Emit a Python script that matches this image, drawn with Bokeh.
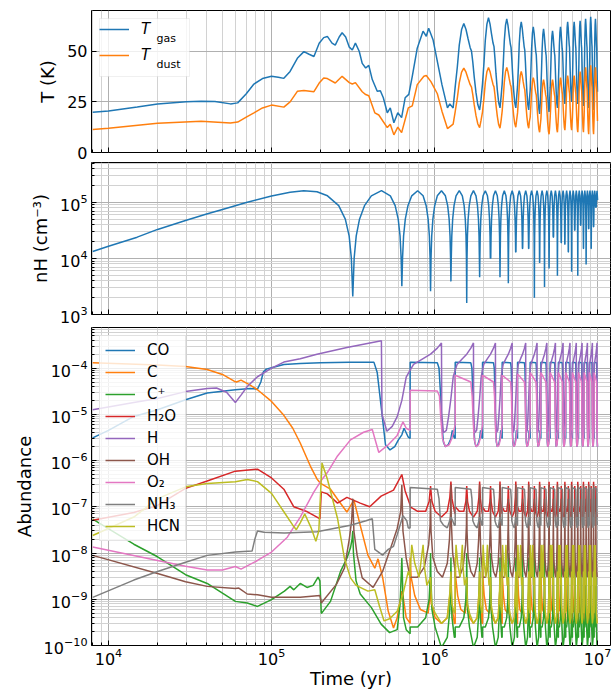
from bokeh.plotting import figure
from bokeh.layouts import column
from bokeh.models import Range1d, FixedTicker, Legend, LegendItem, Label, BoxAnnotation
from bokeh.embed import file_html
from bokeh.resources import INLINE

FONT = "DejaVu Sans"
T_END = 1.0e7

# ---------------- values ----------------
# times of the density minima (yr)
dip_times = [3.15e5, 6.30e5, 9.45e5, 1.26e6, 1.575e6, 1.89e6, 2.205e6, 2.52e6, 2.835e6,
             3.15e6, 3.465e6, 3.78e6, 4.095e6, 4.41e6, 4.725e6, 5.04e6, 5.355e6, 5.67e6,
             5.985e6, 6.3e6, 6.615e6, 6.93e6, 7.245e6, 7.56e6, 7.875e6, 8.19e6, 8.505e6,
             8.82e6, 9.135e6, 9.45e6, 9.765e6]
P = dip_times[1] - dip_times[0]
odd_dips_abund = [3, 5, 7, 9, 11, 13, 15, 17, 19, 21, 23, 25, 27, 29, 31]
odd_dips_temp = [5, 7, 9, 11, 13, 15, 17, 19, 21, 23, 25, 27, 29, 31]

# ---- n_H ----
nh_early_t = [8e3, 1e4, 1.5e4, 2e4, 3e4, 4e4, 5e4, 7e4, 1e5, 1.3e5, 1.575e5, 1.9e5]
nh_early_v = [1.33e4, 1.65e4, 2.4e4, 3.3e4, 4.8e4, 6.2e4, 7.5e4, 1.0e5, 1.3e5, 1.52e5, 1.62e5, 1.55e5]
nh_peak = 1.62e5
nh_dip = [2.1e3, 3.2e3, 2.6e3, 3.9e3, 1.6e3, 4.6e3, 1.0e4, 4.6e3, 3.6e3, 1.3e4, 1.5e4,
          1.5e4, 2.0e3, 8.3e3, 3.1e3, 6.6e3, 2.4e4, 4.9e3, 1.9e4, 1.8e4, 1.3e4, 5.8e3,
          3.2e4, 4.9e3, 3.9e4, 1.5e4, 7.8e3, 3.4e4, 1.5e4, 3.7e4, 8.2e4]
nh_offs = [-0.3, -0.18, -0.1, -0.05, -0.02, 0.0, 0.02, 0.05, 0.1, 0.18, 0.3, 0.5]
nh_shape = [0.81, 0.54, 0.31, 0.156, 0.063, 0.0, 0.063, 0.156, 0.31, 0.54, 0.81, 1.0]
nh_end = 1.1e5

# ---- temperatures ----
tg_t = [8e3, 1e4, 1.5e4, 2e4, 3e4, 3.7e4, 4.5e4, 5.6e4, 6.2e4, 7e4, 7.8e4, 8.8e4, 1e5,
        1.1e5, 1.19e5, 1.3e5, 1.44e5, 1.58e5, 1.7e5, 1.82e5, 1.96e5, 2.09e5, 2.2e5,
        2.35e5, 2.46e5, 2.6e5, 2.71e5, 2.85e5, 3.0e5, 3.13e5, 3.27e5, 3.45e5, 3.6e5,
        3.78e5, 3.95e5, 4.15e5, 4.45e5, 4.65e5, 4.85e5, 5.13e5, 5.35e5, 5.63e5, 5.95e5,
        6.28e5, 6.6e5, 6.95e5, 7.3e5, 7.83e5, 8.5e5, 8.9e5, 9.2e5, 9.8e5, 1.04e6,
        1.11e6, 1.2e6, 1.24e6, 1.3e6]
tg_v = [19.9, 20.5, 22.5, 24.0, 25.0, 25.3, 25.2, 24.0, 24.5, 29.0, 33.8, 36.5, 37.6,
        37.2, 36.6, 40.0, 46.5, 49.8, 48.5, 47.4, 53.9, 56.7, 57.3, 54.0, 53.0, 57.0,
        59.1, 57.0, 52.0, 50.6, 54.0, 50.0, 44.0, 41.7, 43.0, 36.0, 30.2, 30.5, 27.0,
        19.6, 22.0, 14.7, 19.6, 17.2, 27.0, 28.7, 37.6, 51.5, 59.9, 57.4, 61.3, 55.5,
        45.0, 33.5, 22.0, 24.0, 22.0]
td_t = [8e3, 1e4, 2e4, 3.7e4, 5.6e4, 6.2e4, 7e4, 7.8e4, 8.8e4, 1e5, 1.19e5, 1.3e5,
        1.44e5, 1.58e5, 1.82e5, 1.96e5, 2.09e5, 2.2e5, 2.46e5, 2.71e5, 3.0e5, 3.13e5,
        3.27e5, 3.6e5, 3.78e5, 3.95e5, 4.3e5, 4.55e5, 5.13e5, 5.35e5, 5.63e5, 5.95e5,
        6.28e5, 6.9e5, 7.3e5, 7.83e5, 8.6e5, 8.9e5, 9.5e5, 1.04e6, 1.11e6, 1.2e6, 1.3e6]
td_v = [11.4, 12.0, 14.4, 15.4, 14.6, 15.0, 17.5, 19.6, 22.0, 23.4, 22.4, 25.0, 30.2,
        30.6, 30.0, 34.3, 36.8, 36.5, 34.3, 37.6, 34.5, 33.8, 34.5, 30.0, 28.6, 28.0,
        19.6, 18.5, 12.3, 14.0, 8.7, 12.5, 9.8, 22.0, 23.0, 33.5, 37.6, 38.0, 35.0,
        29.0, 20.4, 11.8, 14.0]
tg_peak = [63.7, 66.5, 66.0, 64.5, 62.0, 61.0, 60.0, 62.0, 64.5, 64.5, 65.0, 66.0, 67.0, 66.0]
tg_trough = [21.0, 22.0, 22.0, 21.0, 19.0, 20.0, 22.0, 24.0, 25.0, 24.0, 23.0, 22.0, 21.0, 21.0]
td_peak = [41.7, 42.0, 42.0, 40.0, 37.0, 36.0, 36.0, 37.0, 38.0, 38.0, 40.0, 42.0, 43.0, 42.0]
td_trough = [12.3, 12.0, 12.5, 12.0, 10.0, 9.0, 10.0, 11.0, 11.0, 10.0, 10.0, 9.0, 9.0, 9.0]
temp_offs = [-0.75, -0.62, -0.5, -0.35, -0.2, -0.05, 0.1, 0.25, 0.35, 0.45, 0.56, 0.7, 0.85, 1.0, 1.12]
temp_frac = [0.27, 0.5, 0.75, 0.93, 1.0, 0.93, 0.82, 0.72, 0.68, 0.55, 0.38, 0.2, 0.06, 0.0, 0.12]

# ---- abundances: early part ----
co_t = [8e3, 1e4, 1.43e4, 2e4, 2.97e4, 4.03e4, 6e4, 7.4e4, 8.2e4, 8.6e4, 8.9e4, 9.3e4, 1e5,
        1.19e5, 1.5e5, 2e5, 3e5, 4.25e5, 4.45e5, 4.7e5, 5.0e5, 5.33e5, 5.7e5, 6.0e5, 6.3e5,
        6.5e5, 6.9e5, 7.08e5]
co_v = [3.1e-6, 4.5e-6, 9e-6, 1.26e-5, 2.07e-5, 2.9e-5, 3.4e-5, 3.6e-5, 3.5e-5, 5e-5, 8.2e-5,
        9.5e-5, 1.02e-4, 1.2e-4, 1.25e-4, 1.3e-4, 1.33e-4, 1.33e-4, 8e-5, 1.5e-5, 2.2e-6,
        1.7e-6, 2.0e-6, 2.8e-6, 3.6e-6, 5e-6, 3.2e-6, 3e-6]
c_t = [8e3, 2e4, 2.97e4, 4.03e4, 5e4, 5.9e4, 6.1e4, 6.5e4, 7.4e4, 8.2e4, 1e5, 1.19e5, 1.35e5,
       1.5e5, 1.73e5, 1.9e5, 2.0e5, 2.3e5, 2.6e5, 2.9e5, 3.2e5, 3.5e5, 3.9e5, 4.3e5, 4.5e5,
       4.8e5, 5.2e5, 5.6e5, 5.9e5, 6.3e5, 6.4e5, 6.7e5, 7.08e5]
c_v = [1.3e-4, 1.17e-4, 1.08e-4, 9.3e-5, 7.3e-5, 5.2e-5, 5.0e-5, 5.5e-5, 4.3e-5, 3.4e-5, 1.9e-5,
       9.5e-6, 5e-6, 2.4e-6, 7.6e-7, 4e-7, 3.2e-7, 2.4e-7, 1.3e-7, 7.7e-8, 1.4e-7, 4e-8, 9e-9,
       4.7e-9, 7.5e-9, 3e-9, 5.5e-10, 2.4e-10, 4e-10, 1.5e-9, 1.2e-9, 4e-10, 3e-10]
cp_t = [8e3, 1.43e4, 2e4, 2.97e4, 4.03e4, 5e4, 6e4, 7.1e4, 8.2e4, 1e5, 1.2e5, 1.3e5, 1.37e5,
        1.5e5, 1.65e5, 1.8e5, 1.93e5, 1.98e5, 2.02e5, 2.3e5, 2.65e5, 2.9e5, 3.05e5, 3.12e5,
        3.15e5, 3.18e5, 3.3e5, 3.5e5, 4.1e5, 4.7e5, 5.3e5, 5.9e5, 6.15e5, 6.3e5, 6.45e5,
        6.7e5, 7.08e5]
cp_v = [5.4e-8, 1.55e-8, 8.3e-9, 3.4e-9, 2.2e-9, 1.35e-9, 9e-10, 8.3e-10, 7e-10, 9.8e-10,
        1.5e-9, 1.9e-9, 1.6e-9, 2.2e-9, 1.8e-9, 2.0e-9, 3.0e-9, 2.5e-9, 4.9e-10, 9e-10, 4e-9,
        7.7e-9, 1.3e-8, 2e-8, 3e-8, 1e-8, 2.5e-9, 1.3e-9, 6.6e-10, 2.9e-10, 1.9e-10, 2.2e-10,
        8e-10, 7.8e-9, 4e-10, 2.2e-10, 1.8e-10]
w_t = [8e3, 1.43e4, 2e4, 2.97e4, 4.03e4, 6e4, 8.2e4, 1e5, 1.19e5, 1.37e5, 1.66e5, 1.9e5,
       1.98e5, 2.02e5, 2.2e5, 2.54e5, 2.9e5, 3.5e5, 4.0e5, 4.7e5, 5.6e5, 6.3e5, 6.6e5, 7.08e5]
w_v = [5.1e-8, 7.5e-8, 1.07e-7, 2.5e-7, 3.6e-7, 5.9e-7, 6.5e-7, 4.2e-7, 2.4e-7, 1.0e-7, 7.8e-8,
       6e-8, 5.5e-8, 2.1e-7, 1.9e-7, 1.2e-7, 1.6e-7, 1.2e-7, 1e-7, 1.7e-7, 2.3e-7, 5e-7,
       2.2e-7, 1.1e-7]
h_t = [8e3, 1.43e4, 2e4, 2.97e4, 4.03e4, 4.6e4, 5.3e4, 6.0e4, 6.5e4, 7.1e4, 8.2e4, 1e5,
       1.19e5, 1.5e5, 1.9e5, 2.9e5, 4.72e5, 4.76e5, 5.1e5, 5.5e5, 5.9e5, 6.3e5, 6.7e5, 7.08e5]
h_v = [1.26e-5, 1.8e-5, 2.2e-5, 3.1e-5, 3.6e-5, 3.7e-5, 3.0e-5, 1.8e-5, 2.6e-5, 4e-5, 6.5e-5,
       1.0e-4, 1.35e-4, 1.6e-4, 2.0e-4, 2.8e-4, 3.9e-4, 1e-5, 4.3e-6, 5.5e-6, 8.9e-6, 2.0e-5,
       6.4e-5, 9e-5]
oh_t = [8e3, 2e4, 2.97e4, 4.03e4, 6e4, 6.3e4, 7.1e4, 8.2e4, 1e5, 1.5e5, 1.98e5, 2.02e5,
        2.5e5, 2.8e5, 3.0e5, 3.1e5, 3.15e5, 3.2e5, 3.35e5, 3.6e5, 4.2e5, 4.8e5, 5.3e5,
        5.9e5, 6.2e5, 6.3e5, 6.4e5, 6.7e5, 7.08e5]
oh_v = [8.9e-9, 3.6e-9, 2.4e-9, 1.9e-9, 1.7e-9, 1.75e-9, 1.3e-9, 1.25e-9, 1.1e-9, 1.1e-9,
        1.2e-9, 8.3e-10, 2.1e-9, 4.7e-9, 2e-8, 5e-8, 1.5e-7, 3e-8, 9e-9, 2.9e-9, 1.8e-9,
        4e-9, 1.1e-8, 3.4e-8, 8e-8, 3e-7, 3e-8, 7.7e-9, 3e-9]
o2_t = [8e3, 2e4, 2.97e4, 4.03e4, 5e4, 6e4, 6.5e4, 8.2e4, 1e5, 1.25e5, 1.5e5, 1.82e5, 2.05e5,
        2.2e5, 2.54e5, 3.05e5, 3.67e5, 4.15e5, 4.3e5, 4.55e5, 5.2e5, 5.9e5, 6.4e5, 6.7e5, 7.08e5]
o2_v = [1.35e-8, 6.9e-9, 5.2e-9, 4.3e-9, 4.3e-9, 5.1e-9, 4.5e-9, 6.9e-9, 1.05e-8, 2.2e-8, 6e-8,
        2.1e-7, 4e-7, 5.5e-7, 1.26e-6, 2.8e-6, 4.1e-6, 4.7e-6, 3e-6, 1.5e-6, 2.2e-6, 3.5e-6,
        6.9e-6, 5e-6, 4.5e-6]
nh3_t = [8e3, 1.43e4, 2e4, 2.97e4, 4.03e4, 6e4, 7.6e4, 7.9e4, 8.2e4, 9e4, 1.2e5, 1.9e5,
         3.05e5, 3.8e5, 4.15e5, 4.3e5, 4.8e5, 5.2e5, 5.6e5, 5.9e5, 6.4e5, 6.75e5, 6.9e5, 7.08e5]
nh3_v = [1.1e-9, 2.6e-9, 4e-9, 6.3e-9, 8.9e-9, 1.05e-8, 1.1e-8, 2e-8, 3.0e-8, 2.8e-8, 2.7e-8,
         2.9e-8, 4e-8, 5e-8, 5.5e-8, 1.2e-8, 9e-9, 1.2e-8, 1.4e-8, 2.5e-8, 6.4e-8, 5e-8,
         3.5e-8, 3.5e-8]
hcn_t = [8e3, 1.43e4, 2e4, 2.97e4, 4.03e4, 6e4, 7.1e4, 8.2e4, 1e5, 1.19e5, 1.35e5, 1.42e5,
         1.5e5, 1.6e5, 1.75e5, 1.87e5, 1.95e5, 2.04e5, 2.2e5, 2.54e5, 2.8e5, 3.05e5, 3.3e5,
         3.9e5, 4.3e5, 4.6e5, 4.9e5, 5.3e5, 5.9e5, 6.4e5, 6.9e5, 7.08e5]
hcn_v = [2.4e-8, 6e-8, 1.5e-7, 2.7e-7, 3.2e-7, 3.5e-7, 3.9e-7, 3.5e-7, 1.95e-7, 7.8e-8, 4e-8,
         3.2e-8, 4.5e-8, 7e-8, 3.5e-8, 1.8e-8, 3e-8, 8.9e-7, 4e-7, 5.6e-8, 7.7e-9, 2.9e-9,
         2e-9, 1.5e-9, 1.6e-9, 7e-10, 3.4e-10, 3.8e-10, 5.5e-10, 1.3e-9, 4e-9, 3e-9]

# ---- abundances: one repeating two-dip cycle (offsets in dip periods from an odd dip) ----
co_offs = [-0.75, 0.3, 0.38, 0.45, 0.52, 0.6, 0.7, 0.85, 1.0, 1.08, 1.18, 1.249]
co_cyc = [1.33e-4, 1.3e-4, 1.0e-4, 3e-5, 6e-6, 2.5e-6, 2.0e-6, 2.2e-6, 3e-6, 4.5e-6, 3.2e-6, 3e-6]
h_offs = [-0.75, -0.64, -0.3, 0.0, 0.3, 0.5, 0.515, 0.6, 0.75, 0.87, 1.0, 1.13, 1.249]
h_cyc = [9e-5, 1.2e-4, 1.6e-4, 2.0e-4, 2.7e-4, 3.5e-4, 1e-5, 4e-6, 4.5e-6, 8.9e-6, 2.2e-5, 6.4e-5, 9e-5]
o2_offs = [-0.75, 0.3, 0.4, 0.47, 0.55, 0.7, 0.9, 1.05, 1.2, 1.249]
o2_top = [3.3e-5, 7e-5, 7e-5, 7e-5, 7.5e-5, 8e-5, 8e-5, 8e-5, 8e-5, 8e-5, 8e-5, 8e-5, 8e-5, 8e-5, 8e-5]
o2_end = [3.2e-5, 5e-5, 5e-5, 5e-5, 5e-5, 5e-5, 5e-5, 5e-5, 5e-5, 5e-5, 5e-5, 5e-5, 5e-5, 5e-5, 5e-5]
o2_tail = [2.5e-5, 8e-6, 3e-6, 2e-6, 2.2e-6, 3e-6, 5e-6, 6e-6]
nh3_offs = [-0.75, 0.3, 0.38, 0.45, 0.6, 0.8, 1.0, 1.1, 1.2, 1.249]
nh3_cyc = [2.6e-7, 2.4e-7, 1.5e-7, 5e-8, 4e-8, 3.5e-8, 6e-8, 5e-8, 4e-8, 4e-8]
w_offs = [-0.75, -0.5, -0.2, -0.06, 0.0, 0.06, 0.2, 0.5, 0.8, 0.94, 1.0, 1.06, 1.2, 1.249]
w_cyc = [1.0e-7, 8e-8, 8e-8, 1.3e-7, 2.8e-7, 1.3e-7, 8e-8, 6e-8, 8e-8, 1.6e-7, 3.5e-7, 1.5e-7, 8e-8, 7e-8]
oh_offs = [-0.75, -0.5, -0.25, -0.08, -0.02, 0.0, 0.02, 0.1, 0.3, 0.55, 0.8, 0.92, 0.98, 1.0, 1.02, 1.1, 1.249]
oh_cyc = [3e-9, 3e-9, 5e-9, 1.5e-8, 4e-8, 1.5e-7, 3e-8, 8e-9, 4e-9, 3e-9, 6e-9, 2e-8, 8e-8, 3e-7, 5e-8, 1e-8, 4e-9]
hcn_offs = [-0.75, -0.7, -0.6, -0.45, -0.3, -0.25, -0.15, 0.0, 0.05, 0.2, 0.5, 0.8, 0.95, 1.0, 1.05, 1.2, 1.249]
hcn_cyc = [4e-9, 1.5e-8, 6e-9, 3e-9, 1.5e-8, 5e-9, 2e-9, 3e-9, 8e-10, 5e-10, 3e-10, 4e-10, 1.5e-9, 4e-9, 8e-10, 5e-10, 6e-10]
c_offs = [-0.75, -0.72, -0.6, -0.4, -0.1, -0.02, 0.0, 0.03, 0.2, 0.5, 0.8, 0.97, 1.0, 1.03, 1.2, 1.249]
c_cyc = [8e-9, 3e-9, 1.2e-9, 6e-10, 5e-10, 1.2e-9, 3e-9, 8e-10, 4e-10, 3e-10, 4e-10, 1.5e-9, 4e-9, 8e-10, 3e-10, 3e-10]
cp_offs = [-0.75, -0.5, -0.2, -0.06, -0.015, 0.0, 0.015, 0.06, 0.2, 0.5, 0.8, 0.94, 0.985, 1.0, 1.015, 1.06, 1.2, 1.249]
cp_cyc = [2.5e-10, 2.5e-10, 4e-10, 1e-9, 3e-9, 1e-8, 3e-9, 6e-10, 2.5e-10, 9e-11, 1.5e-10, 6e-10, 2.5e-9, 8e-9, 2e-9, 4e-10, 1.5e-10, 1.5e-10]


# ---------------- assembly ----------------
def assemble(t0, v0, offs, rows, ks):
    t, v = list(t0), list(v0)
    for k, vals in zip(ks, rows):
        tk = dip_times[k - 1]
        for o, val in zip(offs, vals):
            tt = tk + o * P
            if tt <= T_END:
                t.append(tt)
                v.append(val)
    return t, v


nb = len(odd_dips_abund)
series = {}
series["CO"] = assemble(co_t, co_v, co_offs, [co_cyc] * nb, odd_dips_abund)
series["C"] = assemble(c_t, c_v, c_offs, [c_cyc] * nb, odd_dips_abund)
series["C+"] = assemble(cp_t, cp_v, cp_offs, [cp_cyc] * nb, odd_dips_abund)
series["H2O"] = assemble(w_t, w_v, w_offs, [w_cyc] * nb, odd_dips_abund)
series["H"] = assemble(h_t, h_v, h_offs, [h_cyc] * nb, odd_dips_abund)
series["OH"] = assemble(oh_t, oh_v, oh_offs, [oh_cyc] * nb, odd_dips_abund)
series["O2"] = assemble(o2_t, o2_v, o2_offs,
                        [[a, b] + o2_tail for a, b in zip(o2_top, o2_end)], odd_dips_abund)
series["NH3"] = assemble(nh3_t, nh3_v, nh3_offs, [nh3_cyc] * nb, odd_dips_abund)
series["HCN"] = assemble(hcn_t, hcn_v, hcn_offs, [hcn_cyc] * nb, odd_dips_abund)

tgas = assemble(tg_t, tg_v, temp_offs,
                [[lo + f * (hi - lo) for f in temp_frac] for hi, lo in zip(tg_peak, tg_trough)],
                odd_dips_temp)
tdust = assemble(td_t, td_v, temp_offs,
                 [[lo + f * (hi - lo) for f in temp_frac] for hi, lo in zip(td_peak, td_trough)],
                 odd_dips_temp)

nh_t, nh_v = list(nh_early_t), list(nh_early_v)
for tk, dmin in zip(dip_times, nh_dip):
    for o, f in zip(nh_offs, nh_shape):
        nh_t.append(tk + o * P)
        nh_v.append(max(f * nh_peak, dmin))
nh_t.append(T_END)
nh_v.append(nh_end)

# ---------------- figures ----------------
x_major = [1e4, 1e5, 1e6, 1e7]
x_minor = [8e3, 9e3] + [m * 10.0 ** e for e in (4, 5, 6) for m in range(2, 10)]
xr = Range1d(7866, 1.2e7)

FRAME_W = 519


def make_fig(frame_h, y_type, y_range, top, bottom):
    p = figure(frame_width=FRAME_W, frame_height=frame_h, x_axis_type="log",
               y_axis_type=y_type, x_range=xr, y_range=y_range,
               toolbar_location=None, output_backend="svg",
               min_border_left=91, min_border_right=1,
               min_border_top=top, min_border_bottom=bottom)
    p.outline_line_color = "black"
    p.outline_line_width = 1
    p.background_fill_color = "white"
    p.border_fill_color = "white"
    p.xaxis.ticker = FixedTicker(ticks=x_major, minor_ticks=x_minor)
    for ax in (p.xaxis[0], p.yaxis[0]):
        ax.axis_line_color = None
        ax.major_tick_in = 5
        ax.major_tick_out = 0
        ax.minor_tick_in = 3
        ax.minor_tick_out = 0
        ax.major_tick_line_color = "black"
        ax.minor_tick_line_color = "black"
        ax.major_label_text_font = FONT
        ax.major_label_text_font_size = "16px"
        ax.major_label_text_color = "black"
        ax.axis_label_text_font = FONT
        ax.axis_label_text_font_size = "18px"
        ax.axis_label_text_font_style = "normal"
        ax.axis_label_text_color = "black"
        ax.major_label_standoff = 4
        ax.axis_label_standoff = 6
    for g in (p.xgrid[0], p.ygrid[0]):
        g.grid_line_color = "#b0b0b0"
        g.grid_line_width = 1
        g.minor_grid_line_color = "#d2d2d2"
        g.minor_grid_line_width = 1
    return p


def hide_x_labels(p):
    p.xaxis.major_label_text_font_size = "2px"
    p.xaxis.major_label_text_color = None
    p.xaxis.major_label_standoff = 0


def legend_style(leg):
    leg.location = "top_left"
    leg.margin = 8
    leg.padding = 5
    leg.spacing = 4
    leg.glyph_width = 30
    leg.glyph_height = 18
    leg.label_height = 18
    leg.label_standoff = 12
    leg.label_text_font = FONT
    leg.label_text_font_size = "15px"
    leg.label_text_color = "black"
    leg.border_line_color = "#cccccc"
    leg.border_line_width = 1
    leg.background_fill_color = "white"
    leg.background_fill_alpha = 0.8


# Panel 1: temperatures
p1 = make_fig(142, "linear", Range1d(0, 70.1), 10, 10)
p1.yaxis.ticker = FixedTicker(ticks=[0, 25, 50], minor_ticks=[])
p1.ygrid.minor_grid_line_color = None
hide_x_labels(p1)
p1.yaxis.axis_label = "T (K)"
r_tg = p1.line(tgas[0], tgas[1], line_color="#1f77b4", line_width=1.5)
r_td = p1.line(tdust[0], tdust[1], line_color="#ff7f0e", line_width=1.5)
# legend frame drawn underneath (canvas pixels of this panel), legend itself transparent
p1.add_layout(BoxAnnotation(left=99, right=189, top=18, bottom=76,
                            left_units="canvas", right_units="canvas",
                            top_units="canvas", bottom_units="canvas",
                            fill_color="white", fill_alpha=0.8,
                            line_color="#cccccc", line_width=1, level="underlay"))
pad = "\u00a0" * 6
leg1 = Legend(items=[LegendItem(label="T" + pad, renderers=[r_tg]),
                     LegendItem(label="T" + pad, renderers=[r_td])])
legend_style(leg1)
leg1.glyph_height = 22
leg1.label_height = 22
leg1.label_text_font_style = "italic"
leg1.background_fill_alpha = 0.0
leg1.border_line_color = None
p1.add_layout(leg1)
# subscripts of the legend entries (pixel offsets from the frame's lower-left corner)
for sub, ypix in (("gas", 114.0), ("dust", 88.0)):
    p1.add_layout(Label(x=65, y=ypix, x_units="screen", y_units="screen", text=sub,
                        text_font=FONT, text_font_size="11px", text_color="black",
                        text_baseline="alphabetic", level="overlay"))

# Panel 2: density
p2 = make_fig(152, "log", Range1d(1e3, 5.16e5), 0, 13)
p2.yaxis.ticker = FixedTicker(ticks=[1e3, 1e4, 1e5],
                              minor_ticks=[m * 10.0 ** e for e in (3, 4, 5) for m in range(2, 10)])
hide_x_labels(p2)
p2.yaxis.axis_label = "nH (cm\u207b\u00b3)"
p2.line(nh_t, nh_v, line_color="#1f77b4", line_width=1.5)

# Panel 3: abundances
p3 = make_fig(318, "log", Range1d(1e-10, 7.55e-4), 0, 47)
p3.yaxis.ticker = FixedTicker(ticks=[10.0 ** e for e in range(-10, -3)],
                              minor_ticks=[m * 10.0 ** e for e in range(-10, -3) for m in range(2, 10)])
p3.yaxis.axis_label = "Abundance"
p3.xaxis.axis_label = "Time (yr)"
p3.xaxis.major_label_standoff = 2
p3.xaxis.axis_label_standoff = 0

names = ["CO", "C", "C+", "H2O", "H", "OH", "O2", "NH3", "HCN"]
labels = ["CO", "C", "C\u207a", "H\u2082O", "H", "OH", "O\u2082", "NH\u2083", "HCN"]
colors = ["#1f77b4", "#ff7f0e", "#2ca02c", "#d62728", "#9467bd", "#8c564b",
          "#e377c2", "#7f7f7f", "#bcbd22"]
items = []
for name, lab, col in zip(names, labels, colors):
    t, v = series[name]
    r = p3.line(t, v, line_color=col, line_width=1.5)
    items.append(LegendItem(label=lab, renderers=[r]))
leg3 = Legend(items=items)
legend_style(leg3)
p3.add_layout(leg3)

layout = column(p1, p2, p3, spacing=0)
open("out.html", "w").write(file_html(layout, INLINE))
